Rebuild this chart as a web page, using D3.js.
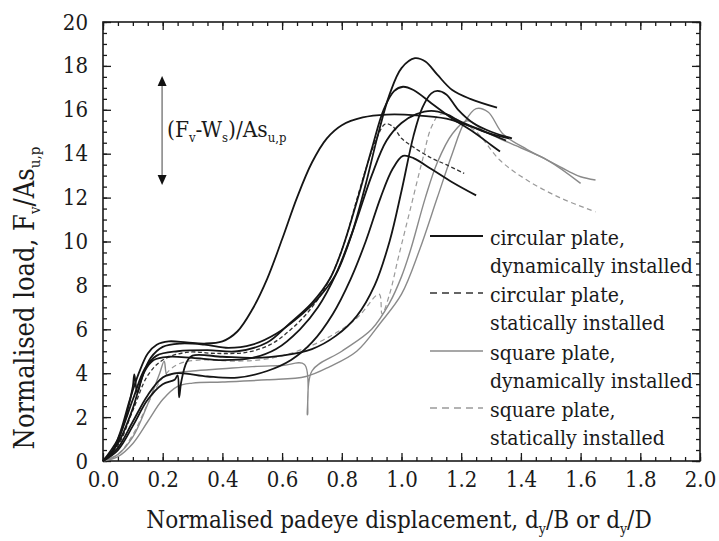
<!DOCTYPE html>
<html lang="en">
<head>
    <meta charset="UTF-8">
    <title>Normalised load</title>
    <script src="https://d3js.org/d3.v7.min.js"></script>
    <style>
        body { margin: 0; background: #fff; }
        svg { font-stretch: condensed; }
        text { fill: #1a1a1a; font-stretch: condensed; }
    </style>
</head>
<body>
<script>
    // circular plate, dynamically installed
    const circDyn1 = [[0,0],[0.03,0.4],[0.06,1.4],[0.09,2.8],[0.12,4.0],[0.15,4.9],[0.18,5.3],[0.22,5.45],[0.28,5.4],[0.34,5.35],[0.4,5.45],[0.45,5.9],[0.5,6.9],[0.55,8.3],[0.6,10.1],[0.65,12.0],[0.7,13.6],[0.75,14.7],[0.8,15.3],[0.87,15.65],[0.95,15.78],[1.05,15.75],[1.15,15.6],[1.22,15.3],[1.3,14.9],[1.36,14.7]];
    const circDyn2 = [[0,0],[0.04,0.6],[0.08,2.2],[0.1,3.4],[0.105,3.95],[0.115,3.1],[0.13,3.8],[0.16,4.7],[0.2,5.2],[0.26,5.35],[0.34,5.3],[0.42,5.15],[0.5,5.3],[0.58,5.8],[0.65,6.5],[0.72,7.4],[0.78,8.5],[0.83,10.2],[0.88,12.6],[0.92,14.8],[0.96,16.7],[1.0,17.9],[1.045,18.35],[1.08,18.2],[1.12,17.6],[1.17,16.9],[1.23,16.5],[1.32,16.1]];
    const circDyn3 = [[0,0],[0.05,1.0],[0.1,2.8],[0.14,4.2],[0.18,4.8],[0.25,5.0],[0.35,5.05],[0.45,5.0],[0.55,5.4],[0.62,6.2],[0.7,7.2],[0.76,8.3],[0.8,9.6],[0.85,11.8],[0.9,14.2],[0.94,16.0],[0.975,16.85],[1.005,17.05],[1.04,16.9],[1.1,16.3],[1.17,15.6],[1.24,15.0],[1.3,14.4],[1.33,14.1]];
    const circDyn4 = [[0,0],[0.05,0.5],[0.1,1.6],[0.15,2.8],[0.2,3.5],[0.24,3.7],[0.25,3.9],[0.255,2.9],[0.262,3.6],[0.28,4.5],[0.3,4.8],[0.4,4.75],[0.5,4.7],[0.6,4.8],[0.7,5.1],[0.78,5.7],[0.85,6.6],[0.91,8.0],[0.96,10.0],[1.0,12.3],[1.04,14.8],[1.07,16.1],[1.1,16.75],[1.12,16.86],[1.15,16.7],[1.19,16.0],[1.24,15.4],[1.3,15.0],[1.37,14.7]];
    const circDyn5 = [[0,0],[0.05,0.6],[0.1,1.8],[0.15,3.0],[0.2,3.8],[0.25,4.0],[0.35,3.85],[0.45,3.8],[0.55,4.1],[0.63,4.6],[0.7,5.4],[0.77,6.7],[0.83,8.3],[0.88,10.0],[0.93,12.0],[0.97,13.3],[1.005,13.9],[1.04,13.8],[1.1,13.3],[1.17,12.7],[1.25,12.1]];
    const circDyn6 = [[0,0],[0.05,0.8],[0.1,2.4],[0.12,3.3],[0.14,4.1],[0.17,4.6],[0.22,4.75],[0.3,4.7],[0.4,4.6],[0.5,4.7],[0.58,5.1],[0.66,6.0],[0.72,7.0],[0.78,8.5],[0.84,10.6],[0.9,13.0],[0.95,14.6],[1.0,15.4],[1.05,15.8],[1.1,15.95],[1.15,15.8],[1.2,15.45],[1.27,15.05],[1.35,14.6]];

    // circular plate, statically installed
    const circStat1 = [[0,0],[0.05,0.7],[0.1,2.3],[0.15,3.9],[0.2,4.6],[0.28,4.95],[0.38,4.9],[0.48,4.95],[0.56,5.3],[0.63,6.0],[0.7,7.0],[0.76,8.3],[0.81,10.0],[0.85,11.9],[0.89,13.7],[0.92,14.8],[0.945,15.35],[0.97,15.25],[1.0,14.7],[1.04,14.3],[1.1,13.8],[1.15,13.5],[1.21,13.1]];

    // square plate, dynamically installed
    const sqDyn1 = [[0,0],[0.05,0.2],[0.1,0.8],[0.15,1.8],[0.2,2.8],[0.25,3.4],[0.3,3.55],[0.4,3.6],[0.55,3.7],[0.68,3.85],[0.76,4.3],[0.85,5.0],[0.93,6.3],[1.0,7.6],[1.06,9.6],[1.12,12.0],[1.17,14.0],[1.21,15.4],[1.25,16.05],[1.29,15.9],[1.34,14.9],[1.42,14.2],[1.49,13.7],[1.56,13.2],[1.6,12.95],[1.65,12.8]];
    const sqDyn2 = [[0,0],[0.05,0.3],[0.1,1.1],[0.15,2.6],[0.19,4.0],[0.205,4.55],[0.215,3.9],[0.24,4.0],[0.3,4.1],[0.4,4.2],[0.5,4.3],[0.6,4.35],[0.675,4.4],[0.685,2.1],[0.7,4.1],[0.8,5.0],[0.9,6.0],[0.96,7.2],[1.0,8.4],[1.03,9.6],[1.08,12.0],[1.12,13.6],[1.17,14.9],[1.22,15.5],[1.28,15.0],[1.36,14.5],[1.49,13.7],[1.6,12.65]];

    // square plate, statically installed
    const sqStat1 = [[0,0],[0.05,0.3],[0.1,1.2],[0.15,2.6],[0.2,3.8],[0.25,4.4],[0.32,4.6],[0.45,4.55],[0.55,4.65],[0.65,5.0],[0.75,5.6],[0.85,6.5],[0.925,7.6],[0.935,6.7],[0.96,7.6],[0.99,9.3],[1.03,11.5],[1.07,13.7],[1.1,15.2],[1.13,15.8],[1.18,15.6],[1.25,15.0],[1.33,13.7],[1.42,12.8],[1.53,12.0],[1.65,11.35]];

    const xTicks = [0, 0.2, 0.4, 0.6, 0.8, 1.0, 1.2, 1.4, 1.6, 1.8, 2.0];
    const yTicks = [0, 2, 4, 6, 8, 10, 12, 14, 16, 18, 20];
    const legendLabels = [["circular plate,", "dynamically installed"],
                          ["circular plate,", "statically installed"],
                          ["square plate,", "dynamically installed"],
                          ["square plate,", "statically installed"]];
    const arrowRange = [12.57, 17.54];   // (Fv-Ws)/As marker
    const arrowX = 0.198;

    const styles = {
        cd: {stroke: "#151515", width: 1.8, dash: null},
        cs: {stroke: "#333", width: 1.3, dash: "4,2.5"},
        sd: {stroke: "#8a8a8a", width: 1.4, dash: null},
        ss: {stroke: "#9a9a9a", width: 1.2, dash: "5,3.5"}
    };
    const series = [
        {d: circDyn1, s: "cd"}, {d: circDyn2, s: "cd"}, {d: circDyn3, s: "cd"},
        {d: circDyn4, s: "cd"}, {d: circDyn5, s: "cd"}, {d: circDyn6, s: "cd"},
        {d: circStat1, s: "cs"},
        {d: sqDyn1, s: "sd"}, {d: sqDyn2, s: "sd"},
        {d: sqStat1, s: "ss"}
    ];

    const FONT = '"DejaVu Serif Condensed", "DejaVu Serif", serif';
    const W = 719, H = 541;
    const x = d3.scaleLinear().domain([0, 2]).range([103, 700]);
    const y = d3.scaleLinear().domain([0, 20]).range([461, 22]);

    const svg = d3.select("body").append("svg")
        .attr("width", W).attr("height", H)
        .attr("font-family", FONT);

    // minor ticks on all four sides
    const xMinor = d3.range(0, 2.0001, 0.05);
    const yMinor = d3.range(0, 20.0001, 0.5);
    [[d3.axisBottom(x), 461], [d3.axisTop(x), 22]].forEach(([ax, ty]) => {
        svg.append("g").attr("transform", `translate(0,${ty})`)
            .call(ax.tickValues(xMinor).tickSize(-4).tickFormat(""));
    });
    [[d3.axisLeft(y), 103], [d3.axisRight(y), 700]].forEach(([ax, tx]) => {
        svg.append("g").attr("transform", `translate(${tx},0)`)
            .call(ax.tickValues(yMinor).tickSize(-4).tickFormat(""));
    });

    // major ticks
    const gx = svg.append("g").attr("transform", "translate(0,461)")
        .call(d3.axisBottom(x).tickValues(xTicks).tickSize(-8).tickPadding(10)
            .tickFormat(d3.format(".1f")));
    svg.append("g").attr("transform", "translate(0,22)")
        .call(d3.axisTop(x).tickValues(xTicks).tickSize(-8).tickFormat(""));
    const gy = svg.append("g").attr("transform", "translate(103,0)")
        .call(d3.axisLeft(y).tickValues(yTicks).tickSize(-8).tickPadding(15));
    svg.append("g").attr("transform", "translate(700,0)")
        .call(d3.axisRight(y).tickValues(yTicks).tickSize(-8).tickFormat(""));

    svg.selectAll(".tick line").attr("stroke", "#1a1a1a").attr("stroke-width", 1.3);
    svg.selectAll(".domain").remove();
    svg.selectAll("g").attr("font-family", FONT).attr("font-size", 22);
    svg.selectAll(".tick text").attr("fill", "#1a1a1a");
    gx.selectAll(".tick text").attr("dy", "0.71em");

    svg.append("rect")
        .attr("x", 103).attr("y", 22).attr("width", 597).attr("height", 439)
        .attr("fill", "none").attr("stroke", "#1a1a1a").attr("stroke-width", 1.6);

    // curves
    const line = d3.line()
        .x(d => x(d[0])).y(d => y(d[1]))
        .curve(d3.curveCatmullRom.alpha(0.5));

    svg.append("g").selectAll("path")
        .data(series.slice().reverse()).join("path")
        .attr("d", d => line(d.d))
        .attr("fill", "none")
        .attr("stroke", d => styles[d.s].stroke)
        .attr("stroke-width", d => styles[d.s].width)
        .attr("stroke-dasharray", d => styles[d.s].dash)
        .attr("stroke-linejoin", "round");

    // double arrow annotation
    const ax0 = x(arrowX);
    svg.append("line")
        .attr("x1", ax0).attr("x2", ax0)
        .attr("y1", y(arrowRange[1]) + 8).attr("y2", y(arrowRange[0]) - 8)
        .attr("stroke", "#8a8a8a").attr("stroke-width", 1.6);
    svg.append("path")
        .attr("d", `M${ax0},${y(arrowRange[1])} l-4.5,10 l9,0 Z`).attr("fill", "#111");
    svg.append("path")
        .attr("d", `M${ax0},${y(arrowRange[0])} l-4.5,-10 l9,0 Z`).attr("fill", "#111");

    const ann = svg.append("text").attr("x", 167).attr("y", 137).attr("font-size", 22.5);
    ann.append("tspan").text("(F");
    ann.append("tspan").text("v").attr("dy", 5).attr("font-size", 13);
    ann.append("tspan").text("-W").attr("dy", -5);
    ann.append("tspan").text("s").attr("dy", 5).attr("font-size", 13);
    ann.append("tspan").text(")/As").attr("dy", -5);
    ann.append("tspan").text("u,p").attr("dy", 5).attr("font-size", 13);

    // legend
    const legend = svg.append("g");
    const legendKeys = ["cd", "cs", "sd", "ss"];
    const legendBase = [245, 302, 360, 417];
    legendKeys.forEach((k, i) => {
        const b = legendBase[i];
        legend.append("line")
            .attr("x1", 430).attr("x2", 483).attr("y1", b - 9).attr("y2", b - 9)
            .attr("stroke", styles[k].stroke)
            .attr("stroke-width", k === "cd" ? 2 : styles[k].width + 0.2)
            .attr("stroke-dasharray", styles[k].dash ? "7,5" : null);
        legend.append("text").attr("x", 490).attr("y", b)
            .attr("font-size", 21).text(legendLabels[i][0]);
        legend.append("text").attr("x", 490).attr("y", b + 28)
            .attr("font-size", 21).text(legendLabels[i][1]);
    });

    // axis titles
    const xt = svg.append("text").attr("x", 399).attr("y", 528)
        .attr("text-anchor", "middle").attr("font-size", 24);
    xt.append("tspan").text("Normalised padeye displacement, d");
    xt.append("tspan").text("y").attr("dy", 6).attr("font-size", 14);
    xt.append("tspan").text("/B or d").attr("dy", -6);
    xt.append("tspan").text("y").attr("dy", 6).attr("font-size", 14);
    xt.append("tspan").text("/D").attr("dy", -6);

    const yt = svg.append("text")
        .attr("transform", "translate(34,298) rotate(-90)")
        .attr("text-anchor", "middle").attr("font-size", 27);
    yt.append("tspan").text("Normalised load, F");
    yt.append("tspan").text("v").attr("dy", 6).attr("font-size", 15);
    yt.append("tspan").text("/As").attr("dy", -6);
    yt.append("tspan").text("u,p").attr("dy", 6).attr("font-size", 15);
</script>
</body>
</html>
